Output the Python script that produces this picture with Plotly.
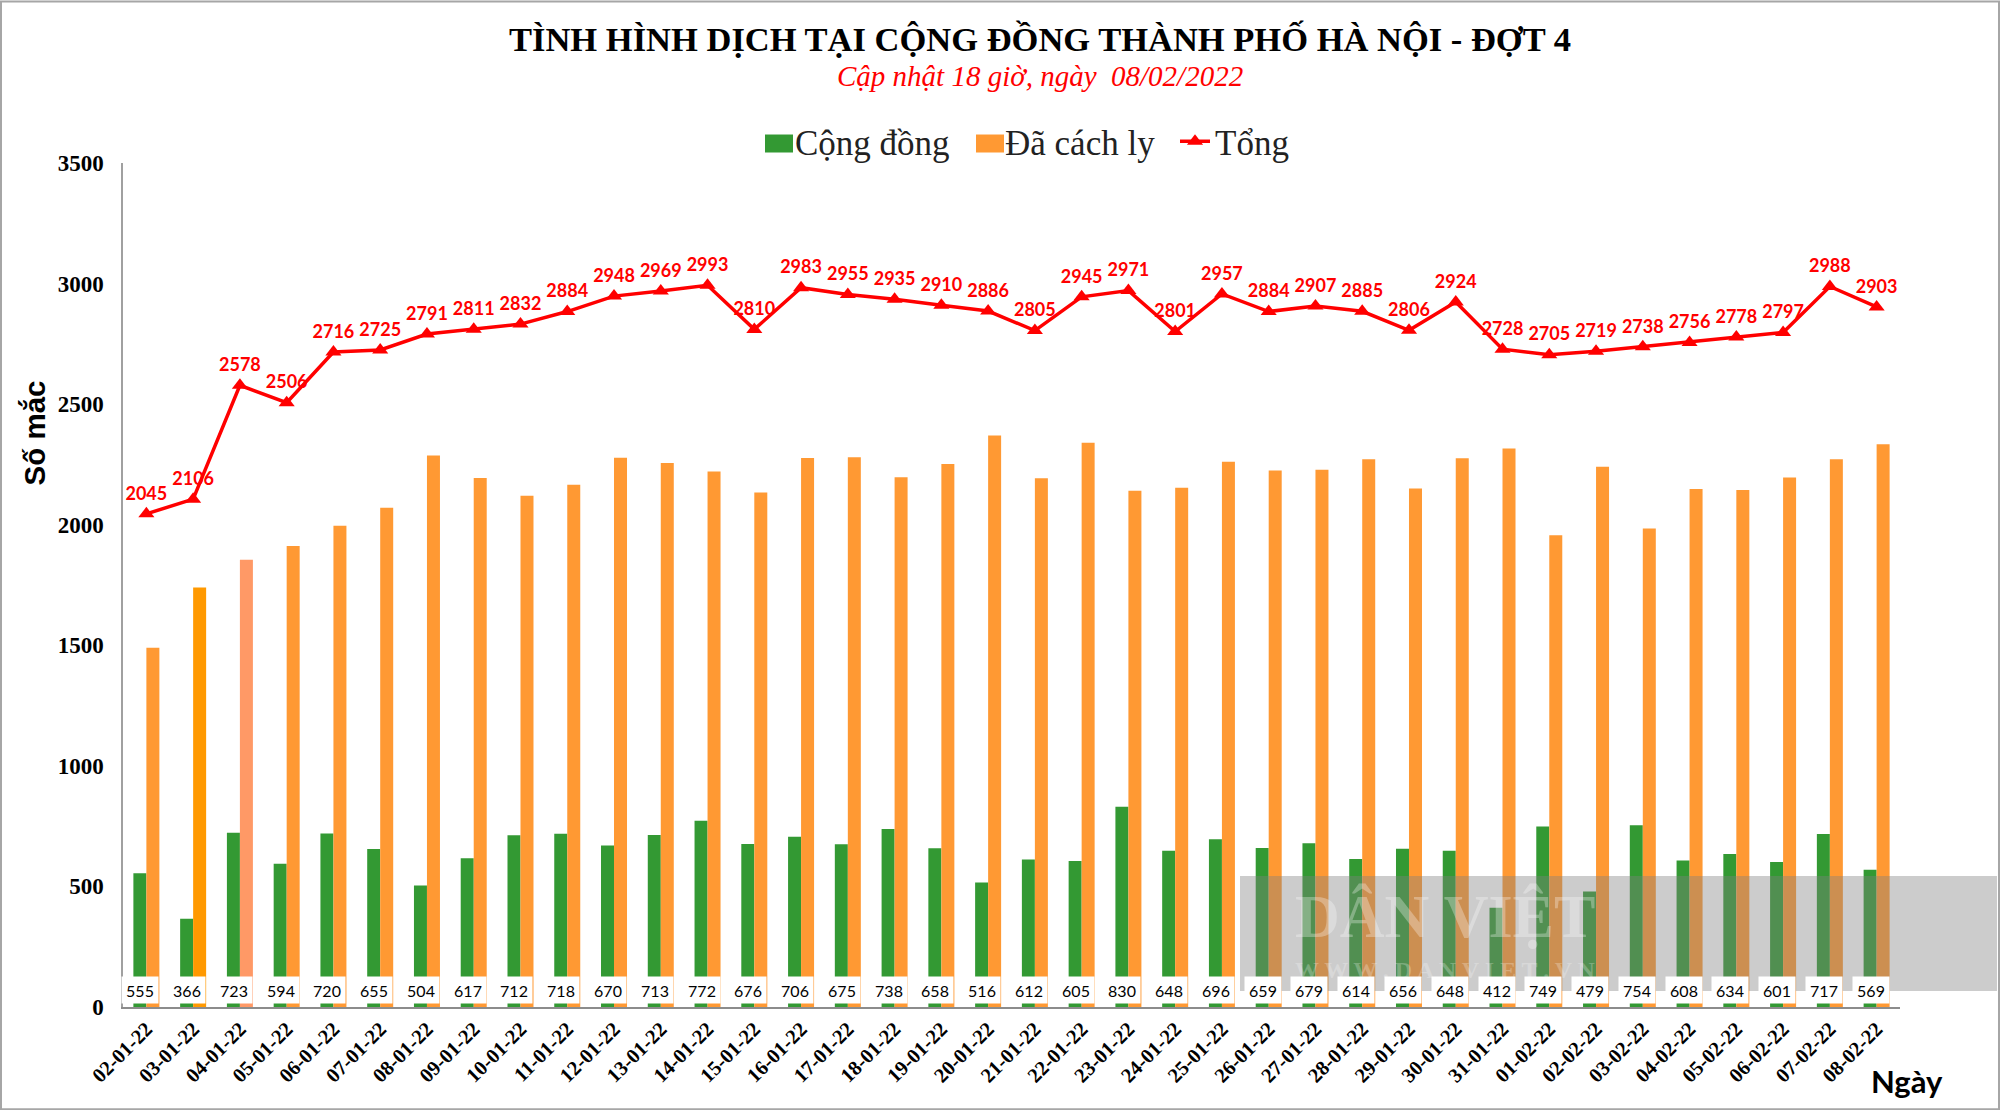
import plotly.graph_objects as go

days = ["02-01-22","03-01-22","04-01-22","05-01-22","06-01-22","07-01-22","08-01-22","09-01-22","10-01-22","11-01-22",
        "12-01-22","13-01-22","14-01-22","15-01-22","16-01-22","17-01-22","18-01-22","19-01-22","20-01-22","21-01-22",
        "22-01-22","23-01-22","24-01-22","25-01-22","26-01-22","27-01-22","28-01-22","29-01-22","30-01-22","31-01-22",
        "01-02-22","02-02-22","03-02-22","04-02-22","05-02-22","06-02-22","07-02-22","08-02-22"]
cong_dong = [555,366,723,594,720,655,504,617,712,718,670,713,772,676,706,675,738,658,516,612,
             605,830,648,696,659,679,614,656,648,412,749,479,754,608,634,601,717,569]
da_cach_ly = [1490,1740,1855,1912,1996,2070,2287,2194,2120,2166,2278,2256,2221,2134,2277,2280,2197,2252,2370,2193,
              2340,2141,2153,2261,2225,2228,2271,2150,2276,2316,1956,2240,1984,2148,2144,2196,2271,2334]
tong = [2045,2106,2578,2506,2716,2725,2791,2811,2832,2884,2948,2969,2993,2810,2983,2955,2935,2910,2886,2805,
        2945,2971,2801,2957,2884,2907,2885,2806,2924,2728,2705,2719,2738,2756,2778,2797,2988,2903]

# plot area in page pixels
LEFT, RIGHT, TOP, BOTTOM = 123, 1900, 162.5, 1006.7

def px(x):
    return (x - LEFT) / (RIGHT - LEFT)

def py(y):
    return (BOTTOM - y) / (BOTTOM - TOP)

GREEN = "#339933"
ORANGE = "#ff9933"
orange = [ORANGE] * len(days)
orange[1] = "#ff9900"
orange[2] = "#ff9966"

fig = go.Figure()
fig.add_trace(go.Bar(x=days, y=cong_dong, name="Cộng đồng", marker=dict(color=GREEN, line_width=0)))
fig.add_trace(go.Bar(x=days, y=da_cach_ly, name="Đã cách ly", marker=dict(color=orange, line_width=0)))
fig.add_trace(go.Scatter(x=days, y=tong, name="Tổng", mode="lines+markers+text",
                         line=dict(color="#ff0000", width=3.5),
                         marker=dict(symbol="triangle-up", size=14, color="#ff0000"),
                         text=[str(v) for v in tong], textposition="top center",
                         textfont=dict(family="Lato", size=18, color="#ff0000", weight="bold")))

fig.update_layout(
    width=2000, height=1110, autosize=False,
    margin=dict(l=LEFT, r=2000 - RIGHT, t=TOP, b=1110 - BOTTOM, pad=0),
    paper_bgcolor="white", plot_bgcolor="white",
    barmode="group", bargap=0.444, bargroupgap=0,
    title=dict(text="TÌNH HÌNH DỊCH TẠI CỘNG ĐỒNG THÀNH PHỐ HÀ NỘI - ĐỢT 4",
               font=dict(family="Liberation Serif", size=34.5, color="black", weight="bold"),
               x=0.52, xanchor="center", y=1 - 39 / 1110, yanchor="middle"),
    legend=dict(orientation="h", x=px(755), xanchor="left", y=py(141), yanchor="middle",
                font=dict(family="Liberation Serif", size=35, color="#222222"),
                entrywidth=165, entrywidthmode="pixels", bgcolor="rgba(0,0,0,0)"),
    showlegend=True,
)
fig.update_xaxes(type="category", range=[-0.5, len(days) - 0.5], tickangle=-45, showgrid=False,
                 showline=True, linecolor="#8c8c8c", linewidth=2, ticks="",
                 tickfont=dict(family="Liberation Serif", size=20.5, color="black", weight="bold"))
fig.update_yaxes(range=[0, 3500], dtick=500, showgrid=False, showline=True, linecolor="#a0a0a0", linewidth=1.5,
                 ticks="", zeroline=False, ticklabelstandoff=13,
                 tickfont=dict(family="Liberation Serif", size=23, color="black", weight="bold"))

# khung, o mau chu giai va mang watermark
fig.add_shape(type="rect", xref="paper", yref="paper", x0=px(1), x1=px(1999), y0=py(1109), y1=py(1),
              line=dict(color="#a6a6a6", width=2), fillcolor="rgba(0,0,0,0)", layer="below")
fig.add_shape(type="rect", xref="paper", yref="paper", x0=px(765), x1=px(793), y0=py(152), y1=py(134),
              line_width=0, fillcolor=GREEN, layer="above")
fig.add_shape(type="rect", xref="paper", yref="paper", x0=px(976), x1=px(1004), y0=py(152), y1=py(134),
              line_width=0, fillcolor=ORANGE, layer="above")
fig.add_shape(type="rect", xref="paper", yref="paper", x0=px(1240), x1=px(1997), y0=py(990.7), y1=py(875.7),
              line_width=0, fillcolor="rgba(128,128,128,0.4)", layer="above")

def note(text, x, y, family, size, color, weight="normal", style="normal", angle=0):
    fig.add_annotation(text=text, xref="paper", yref="paper", x=px(x), y=py(y), xanchor="center", yanchor="middle",
                       showarrow=False, textangle=angle,
                       font=dict(family=family, size=size, color=color, weight=weight, style=style))

note("Cập nhật 18 giờ, ngày  08/02/2022", 1040, 75, "Liberation Serif", 29, "#ff0000", style="italic")
note("Số mắc", 34, 433, "Liberation Sans", 29.5, "black", weight="bold", angle=-90)
note("Ngày", 1907, 1081, "Lato", 31, "black", weight="bold")
note("DÂN VIỆT", 1445, 916, "Liberation Serif", 62, "rgba(255,255,255,0.3)", weight="bold")
note("W W W . D A N V I E T . V N", 1445, 970, "Liberation Serif", 24, "rgba(255,255,255,0.25)", weight="bold")

# nhan cot cong dong, nen trang
for d, v in zip(days, cong_dong):
    fig.add_annotation(text=str(v), x=d, y=69, xref="x", yref="y", xshift=-6, showarrow=False,
                       width=34, height=24, borderpad=1, bgcolor="white",
                       font=dict(family="Lato", size=16, color="black"))

fig.write_html("out.html", config={"displayModeBar": False}, post_script="document.body.style.margin='0'")
